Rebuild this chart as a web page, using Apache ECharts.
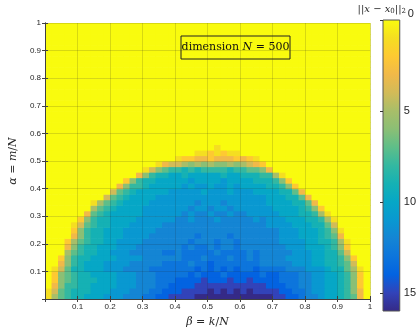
<!DOCTYPE html>
<html>
<head>
<meta charset="utf-8">
<script src="https://cdn.jsdelivr.net/npm/echarts@6/dist/echarts.min.js"></script>
<style>
html, body { margin: 0; padding: 0; background: #fff; }
#chart { width: 419px; height: 333px; }
</style>
</head>
<body>
<div id="chart"></div>
<script>
// cell centres of the (beta, alpha) grid
const beta = [0.01, 0.03, 0.05, 0.07, 0.09, 0.11, 0.13, 0.15, 0.17, 0.19,
    0.21, 0.23, 0.25, 0.27, 0.29, 0.31, 0.33, 0.35, 0.37, 0.39,
    0.41, 0.43, 0.45, 0.47, 0.49, 0.51, 0.53, 0.55, 0.57, 0.59,
    0.61, 0.63, 0.65, 0.67, 0.69, 0.71, 0.73, 0.75, 0.77, 0.79,
    0.81, 0.83, 0.85, 0.87, 0.89, 0.91, 0.93, 0.95, 0.97, 0.99]
const alpha = [0.01, 0.03, 0.05, 0.07, 0.09, 0.11, 0.13, 0.15, 0.17, 0.19,
    0.21, 0.23, 0.25, 0.27, 0.29, 0.31, 0.33, 0.35, 0.37, 0.39,
    0.41, 0.43, 0.45, 0.47, 0.49, 0.51, 0.53, 0.55, 0.57, 0.59,
    0.61, 0.63, 0.65, 0.67, 0.69, 0.71, 0.73, 0.75, 0.77, 0.79,
    0.81, 0.83, 0.85, 0.87, 0.89, 0.91, 0.93, 0.95, 0.97, 0.99]

// ||x - x0||_2 per cell, one string per alpha row (bottom row first),
// one char per beta column: 0-9 then a..g = 10..16 (spaces only group by 10)
const errorRows = [
    '157899aaab bbcccddeef fffggggggg gggggffeed ccbaa98730',
    '1478999aaa bbbcccddee effffgfgfg fgffffeedd cbbaa98630',
    '0368899aaa abbbcccdde eeefffffff ffffeeeddc cbbaa98620',
    '02678999aa abbbcccddd eeeefeeefe efeeeedddc cbbaa98620',
    '0267899aaa abbbcccddd ddedeeedee eeedeedddc cbbaa98620',
    '014799aaab bbccccdddd dddededede ddeddddccc bbba997510',
    '003689aaab bbbcccccdd ddcddedddd dddcccccbb baa9987400',
    '0026899aaa abbbbccccc cdddcdddcd dcdccccbbb baa9986200',
    '00057899aa bbbcccccdd cdddddcddd dcdcccccbb baa9974000',
    '00036899aa abbbcccccc cdcddcdccd cccccccbbb aaa9862000',
    '000257899a abbbbccccc ccdcccdccd ccccccbbbb aa99851000',
    '000036899a aabbbbcccc cccdccccdc ccccccbbba aa98730000',
    '000026899a aabbbbbccc cccccccccc ccccccbbba aa98610000',
    '0000147899 aaabbbbbcc cccccccccc ccccbbbbaa a997400000',
    '0000026899 aaaabbbbbb ccbcccbccc ccbcbbbaaa 9985100000',
    '0000003789 aaaaabbbbb bcbccbccbc cbbbbbaaa9 9851000000',
    '0000000578 9aaaabbbbb bbcbbcbbcb bbbbbaaaa9 8620000000',
    '0000000157 89aaaabbbb bbbcbbbcbb bbbbaaaa99 7300000000',
    '0000000004 789aaaabbb bbbbbbbbbb bbbbaaa997 3000000000',
    '0000000000 4789aaaaab bbbbabbbab bbaaaa9973 0000000000',
    '0000000000 036889aaaa ababbabbab aaaa998620 0000000000',
    '0000000000 0026899aaa aabaaaabaa aa99986200 0000000000',
    '0000000000 000036899a a9aaaaa9aa 9998851000 0000000000',
    '0000000000 0000014678 8989888898 8776300000 0000000000',
    '0000000000 0000000134 4565656656 5432000000 0000000000',
    '0000000000 0000000000 1223323332 3210000000 0000000000',
    '0000000000 0000000000 0001121211 0000000000 0000000000',
    '0000000000 0000000000 0000001000 0000000000 0000000000',
    '0000000000 0000000000 0000000000 0000000000 0000000000',
    '0000000000 0000000000 0000000000 0000000000 0000000000',
    '0000000000 0000000000 0000000000 0000000000 0000000000',
    '0000000000 0000000000 0000000000 0000000000 0000000000',
    '0000000000 0000000000 0000000000 0000000000 0000000000',
    '0000000000 0000000000 0000000000 0000000000 0000000000',
    '0000000000 0000000000 0000000000 0000000000 0000000000',
    '0000000000 0000000000 0000000000 0000000000 0000000000',
    '0000000000 0000000000 0000000000 0000000000 0000000000',
    '0000000000 0000000000 0000000000 0000000000 0000000000',
    '0000000000 0000000000 0000000000 0000000000 0000000000',
    '0000000000 0000000000 0000000000 0000000000 0000000000',
    '0000000000 0000000000 0000000000 0000000000 0000000000',
    '0000000000 0000000000 0000000000 0000000000 0000000000',
    '0000000000 0000000000 0000000000 0000000000 0000000000',
    '0000000000 0000000000 0000000000 0000000000 0000000000',
    '0000000000 0000000000 0000000000 0000000000 0000000000',
    '0000000000 0000000000 0000000000 0000000000 0000000000',
    '0000000000 0000000000 0000000000 0000000000 0000000000',
    '0000000000 0000000000 0000000000 0000000000 0000000000',
    '0000000000 0000000000 0000000000 0000000000 0000000000',
    '0000000000 0000000000 0000000000 0000000000 0000000000'
]
const colorbarRange = [0, 16]

// parula, reversed (0 = yellow at the top of the colorbar)
const parula = ['#f9fb0e', '#f5de21', '#fec932', '#f1b949', '#d2bb58', '#a8be69',
    '#8bbf75', '#5ebe89', '#33b8a1', '#15b1b4', '#06a7c6', '#0998d1',
    '#1485d4', '#0d75dc', '#0363e1', '#3243b9', '#352a87']

const cells = []
errorRows.forEach((row, i) => {
    const chars = row.replace(/ /g, '')
    for (let j = 0; j < beta.length; j++) {
        cells.push([beta[j], alpha[i], parseInt(chars[j] || '0', 17)])
    }
})

const cellHalf = 0.01
const axisColor = '#404040'
const labelFont = { fontSize: 8, color: '#262626', fontFamily: 'Liberation Sans, Arial, sans-serif' }
const serif = 'DejaVu Serif, serif'

function renderCell (params, api) {
    const lo = api.coord([api.value(0) - cellHalf, api.value(1) - cellHalf])
    const hi = api.coord([api.value(0) + cellHalf, api.value(1) + cellHalf])
    return {
        type: 'rect',
        shape: { x: lo[0], y: hi[1], width: hi[0] - lo[0] + 0.6, height: lo[1] - hi[1] + 0.6 },
        style: { fill: api.visual('color') }
    }
}

// colorbar: one rect spanning the colour range, filled with the colormap
function renderColorbar (params, api) {
    const a = api.coord([0, api.value(0)])
    const b = api.coord([1, api.value(1)])
    return {
        type: 'rect',
        shape: { x: a[0], y: a[1], width: b[0] - a[0], height: b[1] - a[1] },
        style: {
            fill: new echarts.graphic.LinearGradient(0, 0, 0, 1,
                parula.map((c, k) => ({ offset: k / (parula.length - 1), color: c })))
        }
    }
}

const unitAxis = {
    type: 'value',
    min: 0,
    max: 1,
    interval: 0.1,
    z: 3,
    axisLine: { show: true, lineStyle: { color: axisColor, width: 1 } },
    axisTick: { show: true, inside: true, length: 3, lineStyle: { color: axisColor } }
}

const option = {
    animation: false,
    backgroundColor: '#fff',
    grid: [
        { left: 37, top: 23, width: 333, height: 288 },
        { left: 383, top: 20, width: 18, height: 291, show: true, borderColor: '#555', borderWidth: 1, z: 10 }
    ],
    xAxis: [
        Object.assign({}, unitAxis, {
            gridIndex: 0,
            position: 'bottom',
            axisLabel: Object.assign({ margin: 4, showMinLabel: false }, labelFont),
            splitLine: { show: true, lineStyle: { color: 'rgba(38,38,38,0.16)', width: 1 } },
            name: '{i|β} = {i|k}/{i|N}',
            nameLocation: 'middle',
            nameGap: 18,
            nameTextStyle: {
                fontFamily: serif, fontSize: 11, color: '#262626',
                rich: { i: { fontFamily: serif, fontStyle: 'italic', fontSize: 11, color: '#262626' } }
            }
        }),
        Object.assign({}, unitAxis, {
            gridIndex: 0,
            position: 'top',
            axisLabel: { show: false },
            splitLine: { show: false }
        }),
        { gridIndex: 1, type: 'value', min: 0, max: 1, show: false }
    ],
    yAxis: [
        Object.assign({}, unitAxis, {
            gridIndex: 0,
            position: 'left',
            axisLabel: Object.assign({ margin: 4, showMinLabel: false }, labelFont),
            splitLine: { show: true, lineStyle: { color: 'rgba(38,38,38,0.16)', width: 1 } },
            name: '{i|α} = {i|m}/{i|N}',
            nameLocation: 'middle',
            nameGap: 22,
            nameTextStyle: {
                fontFamily: serif, fontSize: 11, color: '#262626',
                rich: { i: { fontFamily: serif, fontStyle: 'italic', fontSize: 11, color: '#262626' } }
            }
        }),
        Object.assign({}, unitAxis, {
            gridIndex: 0,
            position: 'right',
            axisLabel: { show: false },
            splitLine: { show: false }
        }),
        {
            gridIndex: 1,
            type: 'value',
            position: 'right',
            min: colorbarRange[0],
            max: colorbarRange[1],
            interval: 5,
            inverse: true,
            z: 11,
            axisLine: { show: false },
            axisTick: { show: true, inside: true, length: 3, lineStyle: { color: '#333' } },
            splitLine: { show: false },
            axisLabel: {
                showMaxLabel: false,
                margin: 4,
                fontSize: 11,
                color: '#262626',
                fontFamily: 'Liberation Sans, Arial, sans-serif',
                formatter: v => (v === 0 ? '{top|0}' : String(v)),
                rich: { top: { fontSize: 11, color: '#262626', padding: [0, 0, 12, 4] } }
            }
        }
    ],
    visualMap: {
        type: 'continuous',
        show: false,
        seriesIndex: 0,
        dimension: 2,
        min: colorbarRange[0],
        max: colorbarRange[1],
        inRange: { color: parula }
    },
    graphic: [
        {
            type: 'rect',
            z: 20,
            shape: { x: 181, y: 36, width: 109, height: 23 },
            style: { fill: 'none', stroke: '#222', lineWidth: 1 }
        },
        {
            type: 'text',
            z: 20,
            x: 235.5,
            y: 47.5,
            style: {
                text: 'dimension {i|N} = 500',
                align: 'center',
                verticalAlign: 'middle',
                font: '11px ' + serif,
                fill: '#111',
                rich: { i: { fontStyle: 'italic', fontFamily: serif, fontSize: 11, fill: '#111' } }
            }
        },
        {
            type: 'text',
            z: 20,
            x: 406,
            y: 9,
            style: {
                text: '||{i|x} − {i|x}{s|0}||{s|2}',
                align: 'right',
                verticalAlign: 'middle',
                font: '10px ' + serif,
                fill: '#262626',
                rich: {
                    i: { fontStyle: 'italic', fontFamily: serif, fontSize: 10, fill: '#262626' },
                    s: { fontFamily: serif, fontSize: 7, fill: '#262626', padding: [4, 0, 0, 0] }
                }
            }
        }
    ],
    series: [
        {
            type: 'custom',
            xAxisIndex: 0,
            yAxisIndex: 0,
            clip: true,
            renderItem: renderCell,
            encode: { x: 0, y: 1 },
            data: cells
        },
        {
            type: 'custom',
            xAxisIndex: 2,
            yAxisIndex: 2,
            renderItem: renderColorbar,
            encode: { y: [0, 1] },
            data: [colorbarRange]
        }
    ]
}

const chart = echarts.init(document.getElementById('chart'))
chart.setOption(option)
</script>
</body>
</html>
